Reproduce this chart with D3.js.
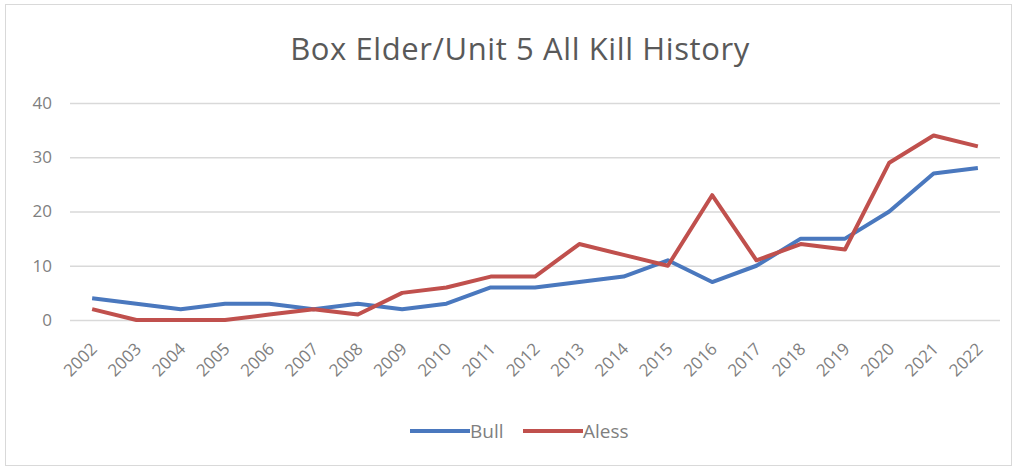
<!DOCTYPE html>
<html><head><meta charset="utf-8">
<script src="https://cdn.jsdelivr.net/npm/d3@7"></script>
<style>body{margin:0;background:#fff;} svg{display:block;}</style>
</head><body>
<script>
const years = ["2002","2003","2004","2005","2006","2007","2008","2009","2010","2011","2012","2013","2014","2015","2016","2017","2018","2019","2020","2021","2022"];
const bull  = [4,3,2,3,3,2,3,2,3,6,6,7,8,11,7,10,15,15,20,27,28];
const aless = [2,0,0,0,1,2,1,5,6,8,8,14,12,10,23,11,14,13,29,34,32];
const yTicks = [0,10,20,30,40];
const seriesNames = ["Bull","Aless"];
const colors = ["#4a78be","#c0504d"];

const W=1017,H=469;
const svg=d3.select("body").append("svg").attr("width",W).attr("height",H);
svg.append("rect").attr("x",5.5).attr("y",4.5).attr("width",1006).attr("height",461).attr("fill","#fff").attr("stroke","#d9d9d9");

const x=d3.scaleBand().domain(years).range([70,1000]);
const y=d3.scaleLinear().domain([0,40]).range([320,103]);
const font="'Open Sans', 'Liberation Sans', Arial, sans-serif";

svg.append("text").attr("x",520).attr("y",60).attr("text-anchor","middle").attr("font-family",font).attr("font-size",31).attr("letter-spacing",0.6).attr("fill","#595959").text("Box Elder/Unit 5 All Kill History");

const ya=svg.append("g").attr("transform","translate(70,0)").call(d3.axisLeft(y).tickValues(yTicks).tickSize(-930).tickPadding(18));
ya.select(".domain").remove();
ya.selectAll("line").attr("stroke","#d9d9d9").attr("stroke-width",1.3);
ya.selectAll("text").attr("font-family",font).attr("font-size",17).attr("fill","#7f7f7f");

const xa=svg.append("g").attr("transform","translate(0,320)").call(d3.axisBottom(x).tickSize(0).tickPadding(0));
xa.select(".domain").remove();
xa.selectAll("text").attr("font-family",font).attr("font-size",17).attr("fill","#7f7f7f")
  .attr("text-anchor","end").attr("dy",0).attr("transform","translate(6,30) rotate(-45)");

const line=d3.line().x((d,i)=>x(years[i])+x.bandwidth()/2).y(d=>y(d));
[bull,aless].forEach((s,k)=>{
  svg.append("path").datum(s).attr("d",line).attr("fill","none").attr("stroke",colors[k]).attr("stroke-width",4).attr("stroke-linejoin","round");
});

const lg=[{x:410,t:"Bull"},{x:523,t:"Aless"}];
lg.forEach((l,k)=>{
  svg.append("line").attr("x1",l.x).attr("x2",l.x+60).attr("y1",431).attr("y2",431).attr("stroke",colors[k]).attr("stroke-width",4);
  svg.append("text").attr("x",l.x+60).attr("y",438).attr("font-family",font).attr("font-size",19).attr("fill","#7f7f7f").text(seriesNames[k]);
});
</script>
</body></html>
